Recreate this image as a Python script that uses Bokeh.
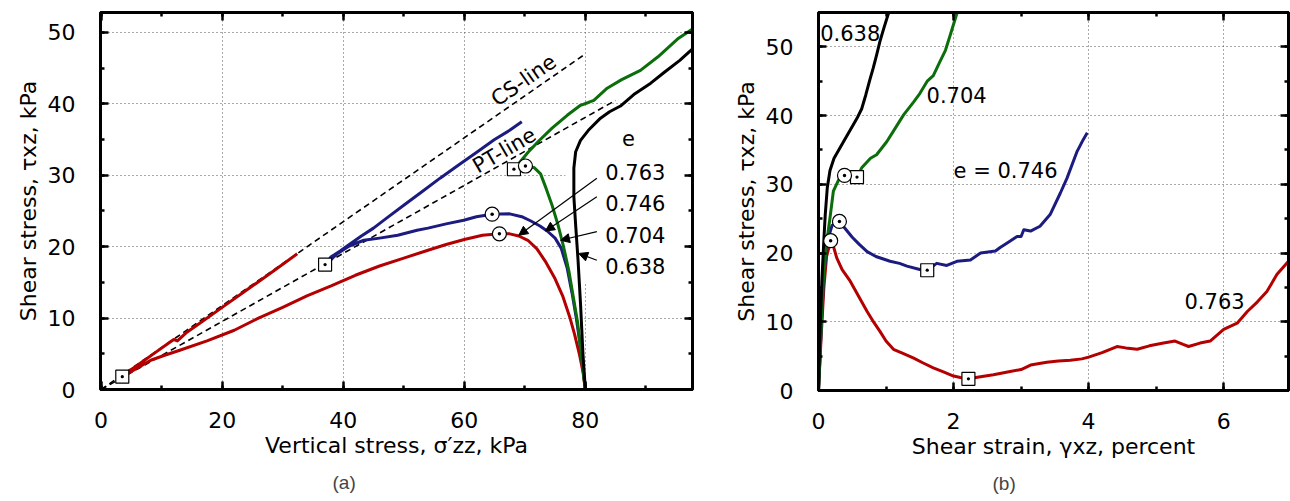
from bokeh.plotting import figure
from bokeh.layouts import row
from bokeh.models import (ColumnDataSource, LinearAxis, SingleIntervalTicker, Range1d,
                          Arrow, NormalHead, Title)
from bokeh.core.properties import value
from bokeh.embed import file_html
from bokeh.resources import INLINE

RED = "#b40000"
BLUE = "#1c1c80"
GREEN = "#0b6e0b"
BLACK = "#000000"
FONT = "DejaVu Sans"

# ---------------- panel (a): stress path ----------------
a_red_sig = [80, 79.6, 79, 78.2, 77.4, 76.3, 75, 73.5, 72, 70.5, 69, 67.5, 65.8, 63, 60, 57, 54, 50,
             46, 42, 38, 34, 30, 26, 22, 17.5, 13, 10.5, 8.2, 6, 3.5, 5, 7, 9, 11, 12, 12.6, 14, 17,
             20, 23, 26, 29, 32.4]
a_red_tau = [0, 2.5, 5, 7.8, 10.2, 13, 15.5, 17.8, 19.7, 20.9, 21.5, 21.8, 21.8, 21.6, 21.0, 20.3,
             19.5, 18.4, 17.3, 16.0, 14.5, 13.1, 11.5, 10.0, 8.3, 6.8, 5.5, 4.8, 4.1, 3.0, 1.8, 2.8,
             4.0, 5.2, 6.4, 7.0, 6.8, 7.9, 9.7, 11.5, 13.3, 15.1, 16.9, 19.0]

a_blue_sig = [80, 79.6, 79.1, 78.5, 77.8, 77, 76, 75, 73.7, 72.5, 71, 69.5, 67.5, 64.6, 62, 59.9, 57,
              54, 52.2, 49, 46, 43.4, 41, 39, 37, 38, 38.6, 39.5, 41, 43, 45, 47, 50, 53, 56, 59,
              62, 65, 67.5, 69.5]
a_blue_tau = [0, 3, 6.5, 10, 13.5, 17, 19.8, 21.2, 22.2, 22.9, 23.6, 24.2, 24.6, 24.55, 24.2, 23.7,
              23.2, 22.6, 22.3, 21.6, 21.2, 20.9, 20.1, 19.0, 17.5, 18.6, 18.9, 19.4, 20.3, 21.5,
              22.6, 23.9, 25.8, 27.7, 29.6, 31.4, 33.2, 35.0, 36.3, 37.5]

a_green_sig = [80, 79.3, 78.7, 78, 77.3, 76.4, 75.5, 74.5, 73.5, 72.6, 71.5, 70.1, 69, 68.2, 69,
               70.5, 72.3, 74.5, 77, 79.2, 80.5, 81.4, 83.6, 86, 89.1, 92, 95.4, 97.7]
a_green_tau = [0, 5, 9.5, 13, 16.5, 20, 23, 25.8, 28.2, 30.2, 31.1, 31.3, 31.1, 30.85, 31.65, 33.2,
               34.8, 36.6, 38.4, 39.8, 40.2, 40.5, 42.2, 43.4, 44.7, 46.6, 49.2, 50.5]

a_black_sig = [80, 79.6, 79.2, 78.8, 78.4, 78.1, 78.1, 78.4, 79.2, 80.5, 82.5, 84, 85.8, 88, 90.8,
               93, 95.6, 97.7]
a_black_tau = [0, 5, 12, 18, 23, 27, 31, 33.3, 34.9, 36.3, 38, 38.9, 39.7, 41.3, 42.9, 44.4, 46.1,
               47.7]

a_sq_sig = [3.5, 37, 68.2]
a_sq_tau = [1.8, 17.5, 30.85]
a_ci_sig = [65.8, 64.6, 70.1]
a_ci_tau = [21.8, 24.55, 31.3]

cs_sig = [0, 80]
cs_tau = [0, 47.0]
pt_sig = [0, 85]
pt_tau = [0, 40.5]

a_labels = ["0.763", "0.746", "0.704", "0.638"]
a_label_x = [83.3, 83.3, 83.3, 83.3]
a_label_y = [30.4, 26.1, 21.7, 17.3]
a_arrow_x0 = [81.9, 81.9, 81.9, 81.9]
a_arrow_y0 = [29.6, 27.0, 22.1, 18.1]
a_arrow_x1 = [69.0, 73.4, 75.9, 78.9]
a_arrow_y1 = [21.6, 22.2, 20.9, 19.05]

# ---------------- panel (b): stress-strain ----------------
b_red_g = [0, 0.04, 0.08, 0.12, 0.18, 0.22, 0.27, 0.35, 0.47, 0.6, 0.72, 0.82, 0.91, 1.0, 1.11,
           1.25, 1.41, 1.55, 1.7, 1.85, 2.0, 2.1, 2.22, 2.4, 2.59, 2.8, 3.0, 3.14, 3.38, 3.55,
           3.73, 3.9, 4.0, 4.2, 4.42, 4.55, 4.72, 4.9, 5.11, 5.28, 5.4, 5.48, 5.65, 5.8, 6.0,
           6.2, 6.35, 6.5, 6.64, 6.79, 6.97]
b_red_t = [0, 8, 15, 19.5, 21.8, 21.0, 19.3, 17.6, 15.9, 13.6, 11.5, 9.9, 8.6, 7.2, 6.0, 5.4, 4.7,
           4.0, 3.3, 2.7, 2.1, 1.9, 1.7, 2.0, 2.3, 2.7, 3.05, 3.7, 4.1, 4.3, 4.4, 4.6, 4.85, 5.5,
           6.4, 6.2, 6.0, 6.5, 6.9, 7.2, 6.7, 6.4, 6.9, 7.2, 8.9, 9.8, 11.5, 12.9, 14.4, 16.9, 18.9]

b_blue_g = [0, 0.04, 0.08, 0.14, 0.2, 0.31, 0.4, 0.5, 0.6, 0.72, 0.85, 1.06, 1.2, 1.31, 1.5, 1.61,
            1.75, 1.9, 2.05, 2.25, 2.4, 2.62, 2.69, 2.8, 2.94, 3.0, 3.04, 3.14, 3.28, 3.43, 3.58,
            3.68, 3.83, 3.92, 3.98]
b_blue_t = [0, 9, 17, 22, 24, 24.6, 23.5, 22.3, 21.3, 20.2, 19.5, 18.8, 18.5, 18.1, 17.6, 17.5,
            18.5, 18.2, 18.8, 19.0, 20.0, 20.3, 20.8, 21.5, 22.4, 22.4, 23.4, 23.2, 23.9, 25.6,
            28.7, 30.9, 34.8, 36.5, 37.5]

b_green_g = [0, 0.03, 0.07, 0.12, 0.17, 0.22, 0.3, 0.385, 0.47, 0.57, 0.64, 0.77, 0.86, 1.01, 1.1,
             1.26, 1.41, 1.5, 1.61, 1.7, 1.8, 1.88, 1.95, 2.05, 2.1]
b_green_t = [0, 7, 15.9, 21.5, 25.1, 29, 30.7, 31.3, 31.0, 31.05, 32.4, 33.8, 34.3, 36.2, 37.6,
             40.1, 42.0, 43.2, 45, 45.8, 47.9, 49.5, 51.7, 54.9, 56.5]

b_black_g = [0, 0.02, 0.05, 0.08, 0.1, 0.13, 0.17, 0.23, 0.3, 0.37, 0.44, 0.5, 0.57, 0.64, 0.7,
             0.76, 0.81, 0.86, 0.91, 0.97, 1.04, 1.1]
b_black_t = [0, 8, 16, 22, 25.6, 29.5, 32.0, 33.8, 35.0, 36.2, 37.4, 38.4, 39.6, 41, 43, 45.2,
             46.9, 48.8, 50.8, 52.8, 55, 57]

b_sq_g = [2.22, 1.61, 0.57]
b_sq_t = [1.7, 17.5, 31.05]
b_ci_g = [0.18, 0.31, 0.385]
b_ci_t = [21.8, 24.6, 31.3]

b_labels = ["0.638", "0.704", "e = 0.746", "0.763"]
b_label_x = [0.025, 1.6, 2.0, 5.42]
b_label_y = [52.0, 43.0, 31.9, 13.0]


def style_axis(ax, ticker, labels=True):
    ax.ticker = ticker
    ax.axis_line_width = 3
    ax.axis_line_color = "black"
    ax.major_tick_in = 8
    ax.major_tick_out = 0
    ax.minor_tick_in = 4
    ax.minor_tick_out = 0
    ax.major_tick_line_width = 2.5
    ax.minor_tick_line_width = 2.5
    ax.major_label_text_font = FONT
    if labels:
        ax.major_label_text_font_size = "22px"
        ax.major_label_text_color = "black"
    else:
        ax.major_label_text_font_size = "1px"
        ax.major_label_text_color = None
        ax.major_label_standoff = 0


def make_fig(xr, yr, fw, fh, mbl, mbr, mbt, mbb, xint, yint, xlabel, ylabel, tag, tag_offset):
    p = figure(frame_width=fw, frame_height=fh, x_range=Range1d(*xr), y_range=Range1d(*yr),
               output_backend="svg", toolbar_location=None,
               min_border_left=mbl, min_border_right=mbr, min_border_top=mbt,
               min_border_bottom=mbb)
    p.outline_line_color = "black"
    p.outline_line_width = 3
    p.background_fill_color = "white"
    p.border_fill_color = "white"
    xt = SingleIntervalTicker(interval=xint, num_minor_ticks=2)
    yt = SingleIntervalTicker(interval=yint, num_minor_ticks=2)
    style_axis(p.xaxis[0], xt)
    style_axis(p.yaxis[0], yt)
    p.xaxis.major_label_standoff = 22
    p.yaxis.major_label_standoff = 25
    p.xaxis.axis_label = xlabel
    p.yaxis.axis_label = ylabel
    for ax in (p.xaxis[0], p.yaxis[0]):
        ax.axis_label_text_font = FONT
        ax.axis_label_text_font_size = "22px"
        ax.axis_label_text_font_style = "normal"
        ax.axis_label_text_color = "black"
    p.xaxis.axis_label_standoff = 2
    p.yaxis.axis_label_standoff = 4
    top = LinearAxis()
    style_axis(top, SingleIntervalTicker(interval=xint, num_minor_ticks=2), labels=False)
    p.add_layout(top, "above")
    right = LinearAxis()
    style_axis(right, SingleIntervalTicker(interval=yint, num_minor_ticks=2), labels=False)
    p.add_layout(right, "right")
    p.xgrid.ticker = xt
    p.ygrid.ticker = yt
    for g in (p.xgrid[0], p.ygrid[0]):
        g.grid_line_color = "#555555"
        g.grid_line_dash = "1 3"
        g.grid_line_width = 1
    p.add_layout(Title(text=tag, align="left", offset=tag_offset, text_font="Liberation Sans",
                       text_font_size="19px", text_font_style="normal", standoff=18), "below")
    return p


# ---------- panel (a)
pa = make_fig((-0.1, 97.7), (0, 52.8), 592, 377, 100, 28, 12, 100, 20, 10,
              "Vertical stress, σ′zz, kPa", "Shear stress, τxz, kPa", "(a)", 232)

# white mask behind the labels (hides grid there)
pa.quad(left=[76.7], right=[97.7], bottom=[15.0], top=[39.5], fill_color="white", line_color=None)

pa.line(cs_sig, cs_tau, line_color="black", line_dash="6 4", line_width=1.6)
pa.line(pt_sig, pt_tau, line_color="black", line_dash="6 4", line_width=1.6)

for xs, ys, c in ((a_red_sig, a_red_tau, RED), (a_blue_sig, a_blue_tau, BLUE),
                  (a_green_sig, a_green_tau, GREEN), (a_black_sig, a_black_tau, BLACK)):
    pa.line(xs, ys, line_color=c, line_width=3, line_join="round")

pa.scatter(a_sq_sig, a_sq_tau, marker="square_dot", size=13, fill_color="white",
           line_color="black", line_width=1.2)
pa.scatter(a_ci_sig, a_ci_tau, marker="circle_dot", size=14, fill_color="white",
           line_color="black", line_width=1.2)

pa.text(x=[69.8], y=[43.3], text=["CS-line"], angle=0.6065, text_font=value(FONT),
        text_font_size="21px", text_align="center", text_baseline="middle")
pa.text(x=[66.6], y=[33.5], text=["PT-line"], angle=0.53, text_font=value(FONT),
        text_font_size="21px", text_align="center", text_baseline="middle")
pa.text(x=[87.1], y=[35.2], text=["e"], text_font=value(FONT), text_font_size="21px",
        text_align="center", text_baseline="middle")
pa.text(x="x", y="y", text="t", source=ColumnDataSource(dict(x=a_label_x, y=a_label_y, t=a_labels)),
        text_font=value(FONT), text_font_size="21px", text_align="left", text_baseline="middle")
arr_src = ColumnDataSource(dict(x0=a_arrow_x0, y0=a_arrow_y0, x1=a_arrow_x1, y1=a_arrow_y1))
pa.add_layout(Arrow(end=NormalHead(size=9, fill_color="black", line_color="black", line_width=1),
                    x_start="x0", y_start="y0", x_end="x1", y_end="y1", source=arr_src,
                    line_color="black", line_width=1.2))

# ---------- panel (b)
pb = make_fig((0, 6.96), (0, 55), 470, 378, 98, 2, 11, 100, 2, 10,
              "Shear strain, γxz, percent", "Shear stress, τxz, kPa", "(b)", 174)

for xs, ys, c in ((b_red_g, b_red_t, RED), (b_blue_g, b_blue_t, BLUE),
                  (b_green_g, b_green_t, GREEN), (b_black_g, b_black_t, BLACK)):
    pb.line(xs, ys, line_color=c, line_width=3, line_join="round")

pb.scatter(b_sq_g, b_sq_t, marker="square_dot", size=13, fill_color="white",
           line_color="black", line_width=1.2)
pb.scatter(b_ci_g, b_ci_t, marker="circle_dot", size=14, fill_color="white",
           line_color="black", line_width=1.2)
pb.text(x="x", y="y", text="t", source=ColumnDataSource(dict(x=b_label_x, y=b_label_y, t=b_labels)),
        text_font=value(FONT), text_font_size="21px", text_align="left", text_baseline="middle")

layout = row(pa, pb)
open("out.html", "w").write(file_html(layout, INLINE))
